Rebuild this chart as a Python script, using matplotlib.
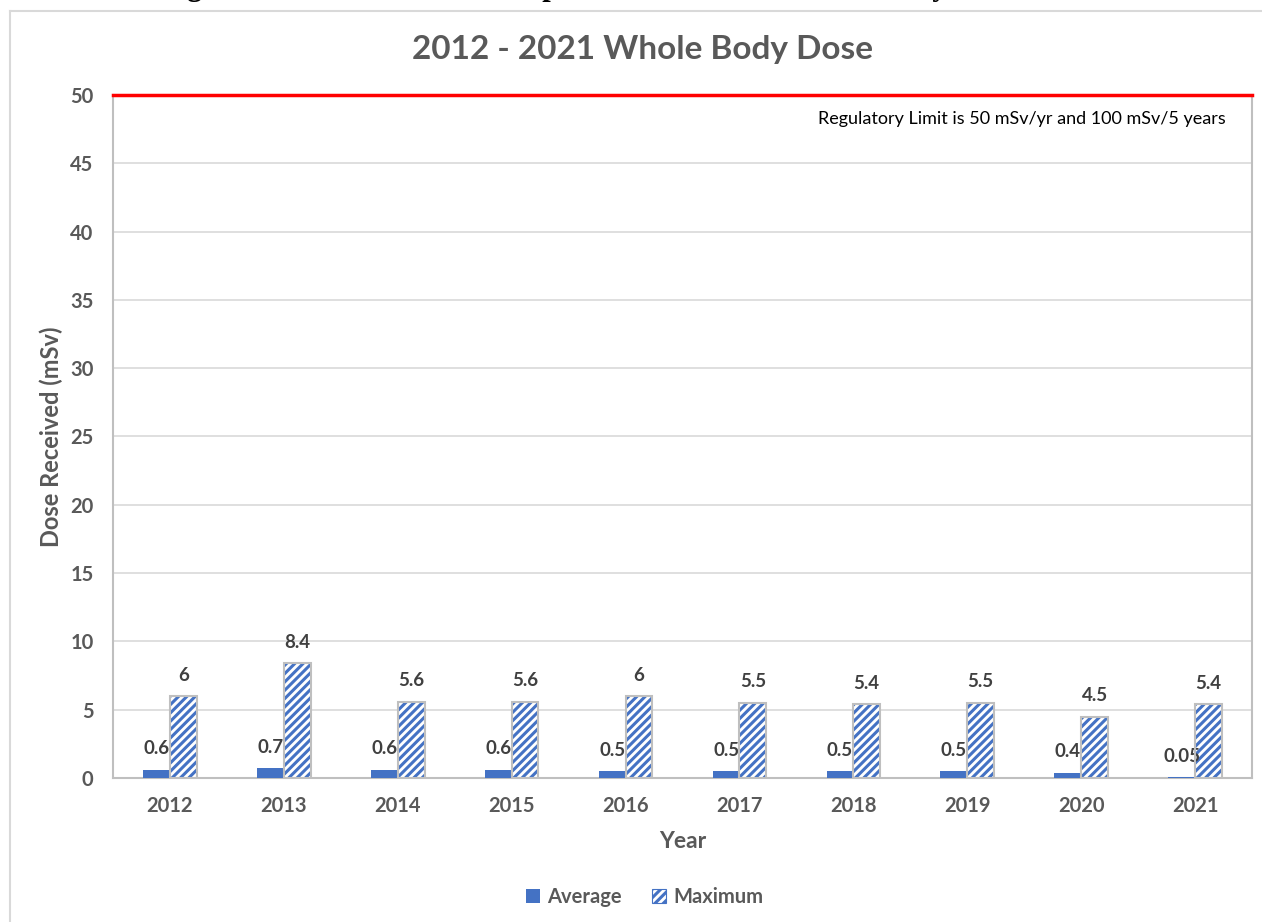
import matplotlib.pyplot as plt
from matplotlib.patches import Patch
from matplotlib.lines import Line2D
import numpy as np

years = ["2012", "2013", "2014", "2015", "2016", "2017", "2018", "2019", "2020", "2021"]
average = [0.6, 0.7, 0.6, 0.6, 0.5, 0.5, 0.5, 0.5, 0.4, 0.05]
maximum = [6, 8.4, 5.6, 5.6, 6, 5.5, 5.4, 5.5, 4.5, 5.4]
avg_labels = ["0.6", "0.7", "0.6", "0.6", "0.5", "0.5", "0.5", "0.5", "0.4", "0.05"]
max_labels = ["6", "8.4", "5.6", "5.6", "6", "5.5", "5.4", "5.5", "4.5", "5.4"]
limit = 50

BLUE = "#4472C4"
GRID = "#D9D9D9"
SPINE = "#BFBFBF"
TXT = "#595959"
LBL = "#404040"

plt.rcParams['font.family'] = ['Lato', 'DejaVu Sans']
plt.rcParams['hatch.linewidth'] = 2.2

W, H = 1262, 922
fig = plt.figure(figsize=(W / 100, H / 100), dpi=100)

# caption of the page, cut off by the top edge
fig.text(160 / W, 1 + 5 / H,
         "Figure 3: Effective Dose Component of Internal Whole Body Dose to Workers",
         family="Liberation Serif", fontweight="bold", fontsize=22,
         ha="left", va="baseline", color="black")

# chart frame
fig.add_artist(Line2D([10 / W, 10 / W], [0, 1 - 11 / H], transform=fig.transFigure,
                      color=GRID, lw=1.5))
fig.add_artist(Line2D([10 / W, 1], [1 - 11 / H, 1 - 11 / H], transform=fig.transFigure,
                      color=GRID, lw=1.5))

left, right, top, bottom = 113, 1252, 95, 778
ax = fig.add_axes([left / W, 1 - bottom / H, (right - left) / W, (bottom - top) / H])

x = np.arange(len(years))
bw = 0.235
ax.bar(x - bw / 2, average, bw, color=BLUE, zorder=3)
# hatched bars: blue stripes, then gray outline on top
ax.bar(x + bw / 2, maximum, bw, facecolor="white", edgecolor=BLUE, hatch="////",
       linewidth=0, zorder=3)
ax.bar(x + bw / 2, maximum, bw, facecolor="none", edgecolor=SPINE, linewidth=1.5,
       zorder=4)

for xi, v, s in zip(x, average, avg_labels):
    ax.annotate(s, (xi - bw / 2, v), xytext=(0, 9), textcoords="offset points",
                ha="center", va="bottom", fontsize=13.5, fontweight="bold", color=LBL)
for xi, v, s in zip(x, maximum, max_labels):
    ax.annotate(s, (xi + bw / 2, v), xytext=(0, 9), textcoords="offset points",
                ha="center", va="bottom", fontsize=13.5, fontweight="bold", color=LBL)

ax.axhline(limit, color="#FF0000", lw=2.5, zorder=5, clip_on=False)

ax.set_xlim(-0.5, len(years) - 0.5)
ax.set_ylim(0, 50)
ax.set_yticks(np.arange(0, 51, 5))
ax.set_xticks(x)
ax.set_xticklabels(years)
ax.yaxis.grid(True, color=GRID, lw=1.2, zorder=0)
ax.set_axisbelow(True)
ax.tick_params(length=0)
ax.tick_params(axis="y", pad=14)
ax.tick_params(axis="x", pad=13)
for lab in ax.get_xticklabels() + ax.get_yticklabels():
    lab.set_fontweight("bold")
    lab.set_fontsize(14.5)
    lab.set_color(TXT)
for side in ["left", "right", "bottom"]:
    ax.spines[side].set_color(SPINE)
    ax.spines[side].set_linewidth(1.5)
ax.spines["top"].set_visible(False)

ax.set_xlabel("Year", fontsize=16.5, fontweight="bold", color=TXT, labelpad=11)
ax.set_ylabel("Dose Received (mSv)", fontsize=17, fontweight="bold", color=TXT, labelpad=5)

ax.text(0.977, 0.965, "Regulatory Limit is 50 mSv/yr and 100 mSv/5 years",
        transform=ax.transAxes, ha="right", va="center", fontsize=13, color="black")

fig.text(642 / W, 1 - 50 / H, "2012 - 2021 Whole Body Dose", ha="center", va="center",
         fontsize=24, fontweight="bold", color=TXT)

handles = [Patch(facecolor=BLUE, label="Average"),
           Patch(facecolor="white", edgecolor=BLUE, hatch="////", lw=0.8, label="Maximum")]
fig.legend(handles=handles, loc="center", bbox_to_anchor=(645 / W, 1 - 897 / H),
           ncol=2, frameon=False, handlelength=0.65, handleheight=0.65,
           handletextpad=0.4, columnspacing=1.5, labelcolor=TXT,
           prop={"weight": "bold", "size": 14.5})

fig.savefig("out.png", dpi=100)
